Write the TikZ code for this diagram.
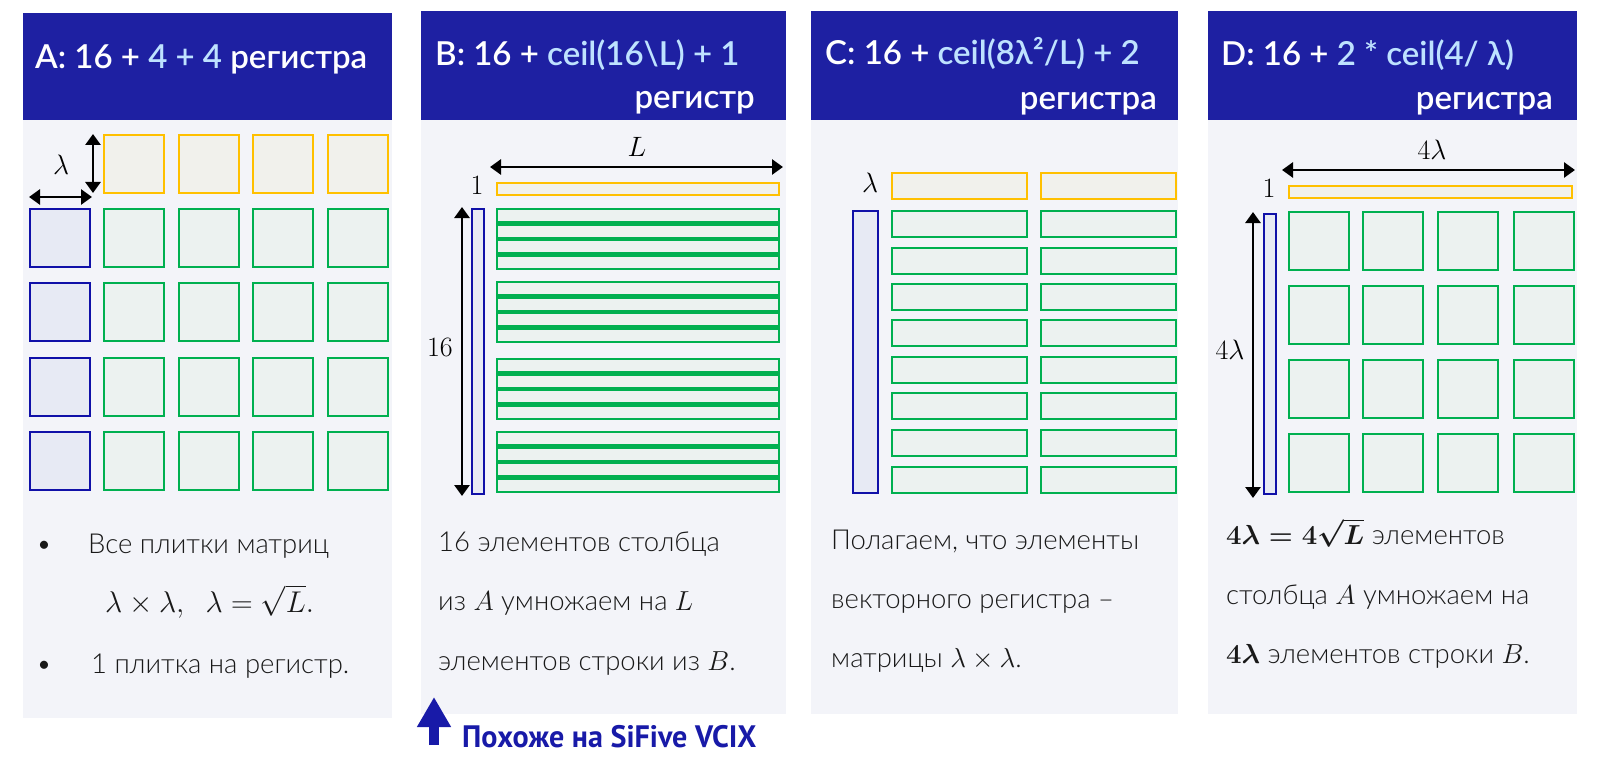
\RequirePackage{fix-cm}
\documentclass[tikz,border=0pt]{standalone}
\usepackage{fontspec}
\usepackage{graphicx}
\IfFontExistsTF{Lato Light}{\setmainfont{Lato Light}}{\setmainfont{Lato}}
\IfFontExistsTF{Lato Semibold}{\newfontfamily\hdrfont{Lato Semibold}}{\IfFontExistsTF{Lato Medium}{\newfontfamily\hdrfont{Lato Medium}}{\newfontfamily\hdrfont{Lato Bold}}}
\newfontfamily\sffont{PT Sans Bold}
\usetikzlibrary{arrows.meta}
\definecolor{hdrblue}{RGB}{30,32,162}
\definecolor{lblue}{RGB}{190,226,255}
\definecolor{bodybg}{RGB}{243,244,249}
\definecolor{cyellow}{RGB}{255,192,0}
\definecolor{yfill}{RGB}{241,241,236}
\definecolor{cgreen}{RGB}{0,176,80}
\definecolor{gfill}{RGB}{236,242,240}
\definecolor{cblue}{RGB}{16,16,168}
\definecolor{bfill}{RGB}{231,234,244}
\definecolor{sfblue}{RGB}{24,26,168}
\definecolor{txt}{RGB}{25,25,25}
\begin{document}
\begin{tikzpicture}[x=1pt,y=-1pt,
  hdrbox/.style={fill=hdrblue},
  bodybox/.style={fill=bodybg},
  hdrtxt/.style={text=white,font=\hdrfont\fontsize{33}{38}\selectfont,inner sep=0pt,anchor=base west},
  hdrtxtr/.style={hdrtxt,anchor=base east},
  bodytxt/.style={text=txt,font=\fontsize{27.5}{32}\selectfont,inner sep=0pt,anchor=base west},
  mathlbl/.style={text=black,font=\fontsize{28}{30}\selectfont,inner sep=0pt},
  ycell/.style={draw=cyellow,fill=yfill,line width=2.5pt},
  gcell/.style={draw=cgreen,fill=gfill,line width=2.5pt},
  bcell/.style={draw=cblue,fill=bfill,line width=2.5pt},
  thinline/.style={line width=2.2pt},
  dimarrow/.style={{Triangle[width=15pt,length=11pt]}-{Triangle[width=15pt,length=11pt]},line width=2.8pt,black},
  sfarrow/.style={-{Triangle[width=32pt,length=30pt]},line width=10pt,sfblue}
]
\useasboundingbox (0,0) rectangle (1600,762);
\fill[white] (0,0) rectangle (1600,762);

% ---------- Panel A ----------
\fill[hdrbox] (23,13) rectangle (392,120);
\fill[bodybox] (23,120) rectangle (392,718);
\node[hdrtxt] (hA) at (35,69) {A: 16 + \textcolor{lblue}{4 + 4} регистра};
\foreach \x in {104,179,253,328} {
  \draw[ycell] (\x,135) rectangle ++(60,58);
  \foreach \y in {209,283,358,432} \draw[gcell] (\x,\y) rectangle ++(60,58);
}
\foreach \y in {209,283,358,432} \draw[bcell] (30,\y) rectangle ++(60,58);
\coordinate (aL) at (29,197);
\coordinate (aR) at (92,197);
\coordinate (aT) at (93,134);
\coordinate (aB) at (93,193);
\draw[dimarrow] (aL) -- (aR);
\draw[dimarrow] (aT) -- (aB);
\node[mathlbl] (lamA) at (61,165) {$\lambda$};

\node[bodytxt] (bA1) at (36,553) {•};
\node[bodytxt] (tA1) at (88,553) {Все плитки матриц};
\node[bodytxt,font=\fontsize{30}{32}\selectfont] (tA2) at (105,612) {$\lambda\times\lambda,\ \ \lambda=\sqrt{L}.$};
\node[bodytxt] (bA2) at (36,673) {•};
\node[bodytxt] (tA3) at (91,673) {1 плитка на регистр.};

% ---------- Panel B ----------
\fill[hdrbox] (421,11) rectangle (786,120);
\fill[bodybox] (421,120) rectangle (786,714);
\node[hdrtxt] (hB1) at (435,66) {B: 16 + \textcolor{lblue}{ceil(16\textbackslash L) + 1}};
\node[hdrtxtr] (hB2) at (755,109) {регистр};
\coordinate (bL1) at (490,167);
\coordinate (bL2) at (783,167);
\draw[dimarrow] (bL1) -- (bL2);
\node[mathlbl] (lblL) at (637,147) {$L$};
\node[mathlbl] (lblB1) at (477,185) {$1$};
\draw[cyellow,fill=yfill,thinline] (497,183) rectangle (779,195);
\draw[cblue,fill=bfill,thinline] (472,209) rectangle (484,494);
\coordinate (b16a) at (462,207);
\coordinate (b16b) at (462,496);
\draw[dimarrow] (b16a) -- (b16b);
\node[mathlbl] (lbl16) at (440,347) {$16$};
\foreach \t in {209,282,359,432} {
  \foreach \k in {0,1,2,3}
    \draw[cgreen,fill=gfill,thinline] (497,\t+\k*15.5) rectangle (779,\t+\k*15.5+13.5);
}
\node[bodytxt] (tB1) at (438,551) {16 элементов столбца};
\node[bodytxt] (tB2) at (438,610) {из $A$ умножаем на $L$};
\node[bodytxt] (tB3) at (438,670) {элементов строки из $B$.};
\coordinate (sfA) at (434,745);
\coordinate (sfB) at (434,697);
\draw[sfarrow] (sfA) -- (sfB);
\node[inner sep=0pt,anchor=base west,text=sfblue,font=\sffont\fontsize{31}{34}\selectfont] (sf) at (462,747) {\scalebox{0.97}[1]{Похоже на SiFive VCIX}};

% ---------- Panel C ----------
\fill[hdrbox] (811,11) rectangle (1178,120);
\fill[bodybox] (811,120) rectangle (1178,714);
\node[hdrtxt] (hC1) at (825,65) {C: 16 + \textcolor{lblue}{ceil(8λ²/L) + 2}};
\node[hdrtxtr] (hC2) at (1157,110) {регистра};
\node[mathlbl] (lamC) at (870,183) {$\lambda$};
\foreach \x in {892,1041} {
  \draw[ycell] (\x,173) rectangle ++(135,26);
  \foreach \y in {211,248,284,320,357,393,430,467} \draw[gcell] (\x,\y) rectangle ++(135,26);
}
\draw[bcell] (853,211) rectangle (878,493);
\node[bodytxt] (tC1) at (831,549) {Полагаем, что элементы};
\node[bodytxt] (tC2) at (831,608) {векторного регистра –};
\node[bodytxt] (tC3) at (831,667) {матрицы $\lambda\times\lambda$.};

% ---------- Panel D ----------
\fill[hdrbox] (1208,11) rectangle (1577,120);
\fill[bodybox] (1208,120) rectangle (1577,714);
\node[hdrtxt] (hD1) at (1221,66) {D: 16 + \textcolor{lblue}{2 * ceil(4/ λ)}};
\node[hdrtxtr] (hD2) at (1553,110) {регистра};
\coordinate (dL1) at (1282,170);
\coordinate (dL2) at (1575,170);
\draw[dimarrow] (dL1) -- (dL2);
\node[mathlbl] (lbl4l) at (1432,150) {$4\lambda$};
\node[mathlbl] (lblD1) at (1269,188) {$1$};
\draw[cyellow,fill=yfill,thinline] (1289,186) rectangle (1572,198);
\draw[cblue,fill=bfill,thinline] (1264,214) rectangle (1276,494);
\coordinate (dVa) at (1253,212);
\coordinate (dVb) at (1253,498);
\draw[dimarrow] (dVa) -- (dVb);
\node[mathlbl] (lbl4l2) at (1230,350) {$4\lambda$};
\foreach \x in {1289,1363,1438,1514}
  \foreach \y in {212,286,360,434} \draw[gcell] (\x,\y) rectangle ++(60,58);
\node[bodytxt] (tD1) at (1226,544) {{\boldmath$4\lambda=4\sqrt{L}$} элементов};
\node[bodytxt] (tD2) at (1226,604) {столбца $A$ умножаем на};
\node[bodytxt] (tD3) at (1226,663) {{\boldmath$4\lambda$} элементов строки $B$.};
\end{tikzpicture}
\end{document}
